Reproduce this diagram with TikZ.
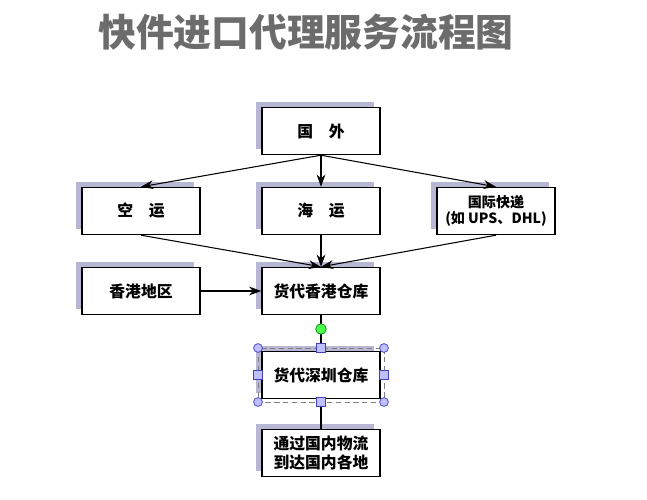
\documentclass[tikz,border=0pt]{standalone}
\usepackage{fontspec}
\setmainfont{Liberation Serif}
\newfontfamily\cjk{Noto Sans CJK SC}
\usetikzlibrary{arrows.meta}

\begin{document}
\begin{tikzpicture}[x=0.02cm,y=-0.02cm,
    flowbox/.style={draw, thick, fill=white, minimum width=2.36cm, minimum height=0.94cm,
        inner xsep=2pt, align=center, font=\cjk\small\bfseries},
    flowarrow/.style={-{Stealth[length=7pt,width=5pt]}, semithick},
    handle/.style={draw=blue!50!gray, fill=blue!25, inner sep=0pt, minimum size=5pt}]

    % Page
    \useasboundingbox (0,0) rectangle (647,500);
    \fill[white] (0,0) rectangle (647,500);

    % Title
    \node[text=gray!85!black, font=\cjk\fontsize{21.5}{24}\selectfont\bfseries] (title) at (306,32) {快件进口代理服务流程图};

    % Shadows
    \foreach \cx/\cy in {321/131, 141/211, 321/211, 496/211, 141/291, 321/291, 321/375, 321/453}
        \fill[blue!25!gray!45] (\cx-65,\cy-29) rectangle (\cx+53,\cy+18);

    % Boxes
    \node[flowbox] (abroad) at (321,131) {国\quad 外};
    \node[flowbox] (air) at (141,211) {空\quad 运};
    \node[flowbox] (sea) at (321,211) {海\quad 运};
    \node[flowbox, font=\cjk\footnotesize\bfseries] (express) at (496,211) {国际快递\\(如 UPS、DHL)};
    \node[flowbox] (hk) at (141,291) {香港地区};
    \node[flowbox] (hkstore) at (321,291) {货代香港仓库};
    \node[flowbox] (szstore) at (321,375) {货代深圳仓库};
    \node[flowbox] (local) at (321,453) {通过国内物流\\到达国内各地};

    % Connectors
    \draw[flowarrow] (abroad.south) -- (air.north);
    \draw[flowarrow] (abroad.south) -- (sea.north);
    \draw[flowarrow] (abroad.south) -- (express.north);
    \draw[flowarrow] (air.south) -- (hkstore.north);
    \draw[flowarrow] (sea.south) -- (hkstore.north);
    \draw[flowarrow] (express.south) -- (hkstore.north);
    \draw[flowarrow] (hk.east) -- (hkstore.west);
    \draw[semithick] (hkstore.south) -- (szstore.north);
    \draw[semithick] (szstore.south) -- (local.north);

    % Selection frame
    \draw[gray, densely dashed] (258,348) rectangle (384,402);
    \foreach \hx/\hy in {258/348, 384/348, 258/402, 384/402}
        \node[handle, circle] at (\hx,\hy) {};
    \foreach \hx/\hy in {321/348, 321/402, 258/375, 384/375}
        \node[handle, rectangle] at (\hx,\hy) {};
    \node[circle, draw=green!50!black, fill=green!70, inner sep=0pt, minimum size=6pt] (rot) at (321,329) {};
\end{tikzpicture}
\end{document}
